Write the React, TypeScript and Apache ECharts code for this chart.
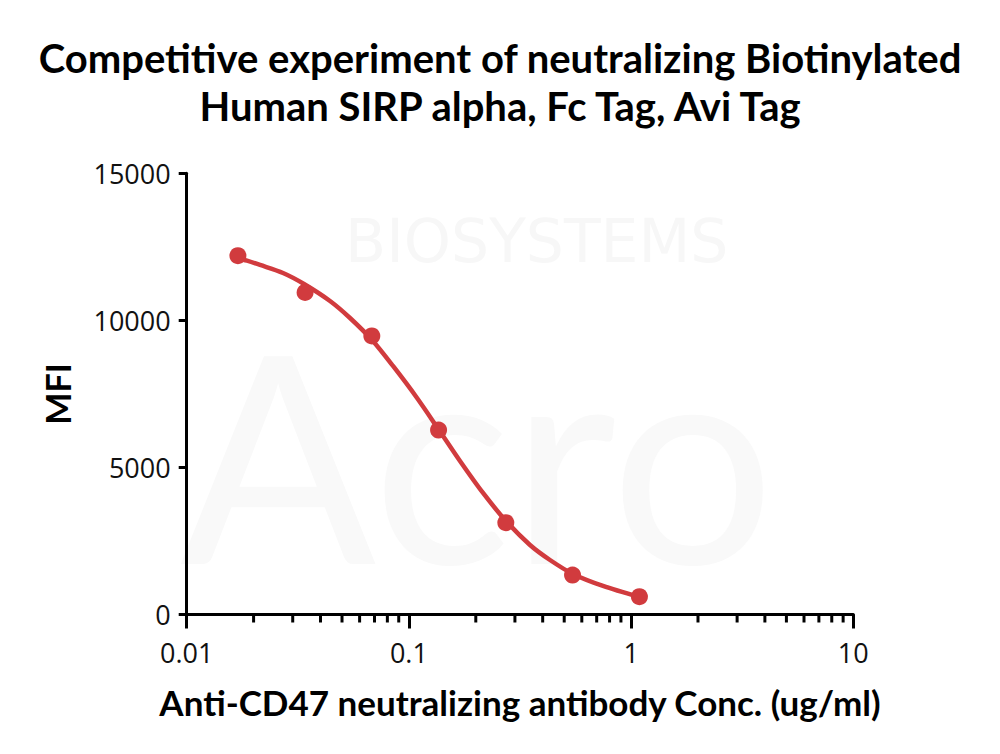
import React, { useEffect, useRef } from "react";
import * as echarts from "echarts";

const titleLines = [
  "Competitive experiment of neutralizing Biotinylated",
  "Human SIRP alpha, Fc Tag, Avi Tag",
];
const xAxisTitle = "Anti-CD47 neutralizing antibody Conc. (ug/ml)";
const yAxisTitle = "MFI";
const watermarkTop = "BIOSYSTEMS";
const watermarkMain = "Acro";

// measured points
const concentrations = [0.017, 0.0341, 0.0681, 0.136, 0.273, 0.545, 1.09];
const mfiValues = [12200, 10950, 9470, 6270, 3120, 1340, 605];

// fitted curve
const curveConc = [
  0.01684, 0.01868, 0.02138, 0.02713, 0.03372, 0.04415, 0.05432, 0.06823,
  0.08481, 0.1088, 0.1366, 0.1698, 0.2156, 0.2735, 0.3508, 0.4315, 0.5476,
  0.7473, 1.085,
];
const curveMfi = [
  12121, 12029, 11883, 11610, 11237, 10659, 10081, 9333, 8449, 7361, 6273,
  5219, 4131, 3179, 2363, 1853, 1377, 969, 595,
];

const xTickLabels = ["0.01", "0.1", "1", "10"];
const yTickValues = [0, 5000, 10000, 15000];
const minorTickValues = [
  0.02, 0.03, 0.04, 0.05, 0.06, 0.07, 0.08, 0.09,
  0.2, 0.3, 0.4, 0.5, 0.6, 0.7, 0.8, 0.9,
  2, 3, 4, 5, 6, 7, 8, 9,
];

const RED = "#d13b3e";

export default function App() {
  const ref = useRef<HTMLDivElement>(null);
  useEffect(() => {
    if (!ref.current) return;
    const chart = echarts.init(ref.current, null, { renderer: "svg" });
    const tickFont = { fontFamily: "Open Sans", fontSize: 27, color: "#111" };
    const titleStyle = {
      fontFamily: "Lato",
      fontWeight: "bold",
      fontSize: 40,
      lineHeight: 46,
      color: "#000",
    };
    chart.setOption({
      animation: false,
      backgroundColor: "#ffffff",
      title: [
        { text: titleLines[0], left: "center", top: 30, textStyle: titleStyle },
        { text: titleLines[1], left: "center", top: 78, textStyle: titleStyle },
      ],
      graphic: [
        {
          type: "text",
          x: 345,
          y: 241,
          silent: true,
          z: -10,
          style: {
            text: watermarkTop,
            fontFamily: "DejaVu Sans",
            fontSize: 60,
            verticalAlign: "middle",
            align: "left",
            fill: "#f7f7f7",
          },
        },
        {
          type: "text",
          x: 180,
          y: 452,
          silent: true,
          z: -10,
          style: {
            text: watermarkMain,
            fontFamily: "Lato",
            fontSize: 290,
            verticalAlign: "middle",
            align: "left",
            fill: "#f9f9f9",
          },
        },
      ],
      grid: { left: 186.7, right: 146.7, top: 173.3, bottom: 139.5, containLabel: false },
      xAxis: {
        type: "log",
        logBase: 10,
        min: 0.01,
        max: 10,
        name: xAxisTitle,
        nameLocation: "middle",
        nameGap: 70,
        nameTextStyle: { fontFamily: "Lato", fontWeight: "bold", fontSize: 35, color: "#000" },
        axisLine: { onZero: false, lineStyle: { color: "#000", width: 3 } },
        axisTick: { show: true, length: 14, lineStyle: { color: "#000", width: 3 } },
        axisLabel: {
          ...tickFont,
          margin: 24,
          formatter: (v: number) => {
            const i = Math.round(Math.log10(v)) + 2;
            return xTickLabels[i] ?? String(v);
          },
        },
        splitLine: { show: false },
        minorTick: { show: false },
      },
      yAxis: {
        type: "value",
        min: yTickValues[0],
        max: yTickValues[yTickValues.length - 1],
        interval: 5000,
        name: yAxisTitle,
        nameLocation: "middle",
        nameGap: 112,
        nameRotate: 90,
        nameTextStyle: { fontFamily: "Lato", fontWeight: "bold", fontSize: 34, color: "#000" },
        axisLine: { show: true, lineStyle: { color: "#000", width: 3 } },
        axisTick: { show: true, length: 8, lineStyle: { color: "#000", width: 3 } },
        axisLabel: { ...tickFont, margin: 16, formatter: (v: number) => String(v) },
        splitLine: { show: false },
      },
      series: [
        {
          type: "custom",
          name: "minorTicks",
          silent: true,
          clip: false,
          z: 1,
          data: minorTickValues.map((v) => [v, 0]),
          renderItem: (params: any, api: any) => {
            const p = api.coord([api.value(0), 0]);
            return {
              type: "line",
              shape: { x1: p[0], y1: p[1], x2: p[0], y2: p[1] + 8 },
              style: { stroke: "#000", lineWidth: 3 },
            };
          },
        },
        {
          type: "line",
          name: "fit",
          data: curveConc.map((c, i) => [c, curveMfi[i]]),
          smooth: 0.3,
          showSymbol: false,
          symbol: "none",
          lineStyle: { color: RED, width: 4.5 },
          z: 3,
          silent: true,
        },
        {
          type: "scatter",
          name: "MFI",
          data: concentrations.map((c, i) => [c, mfiValues[i]]),
          symbol: "circle",
          symbolSize: 17,
          itemStyle: { color: RED, opacity: 1 },
          z: 4,
        },
      ],
    });
    return () => chart.dispose();
  }, []);
  return (
    <div
      ref={ref}
      style={{ position: "fixed", left: 0, top: 0, width: 1000, height: 754, background: "#fff" }}
    />
  );
}
